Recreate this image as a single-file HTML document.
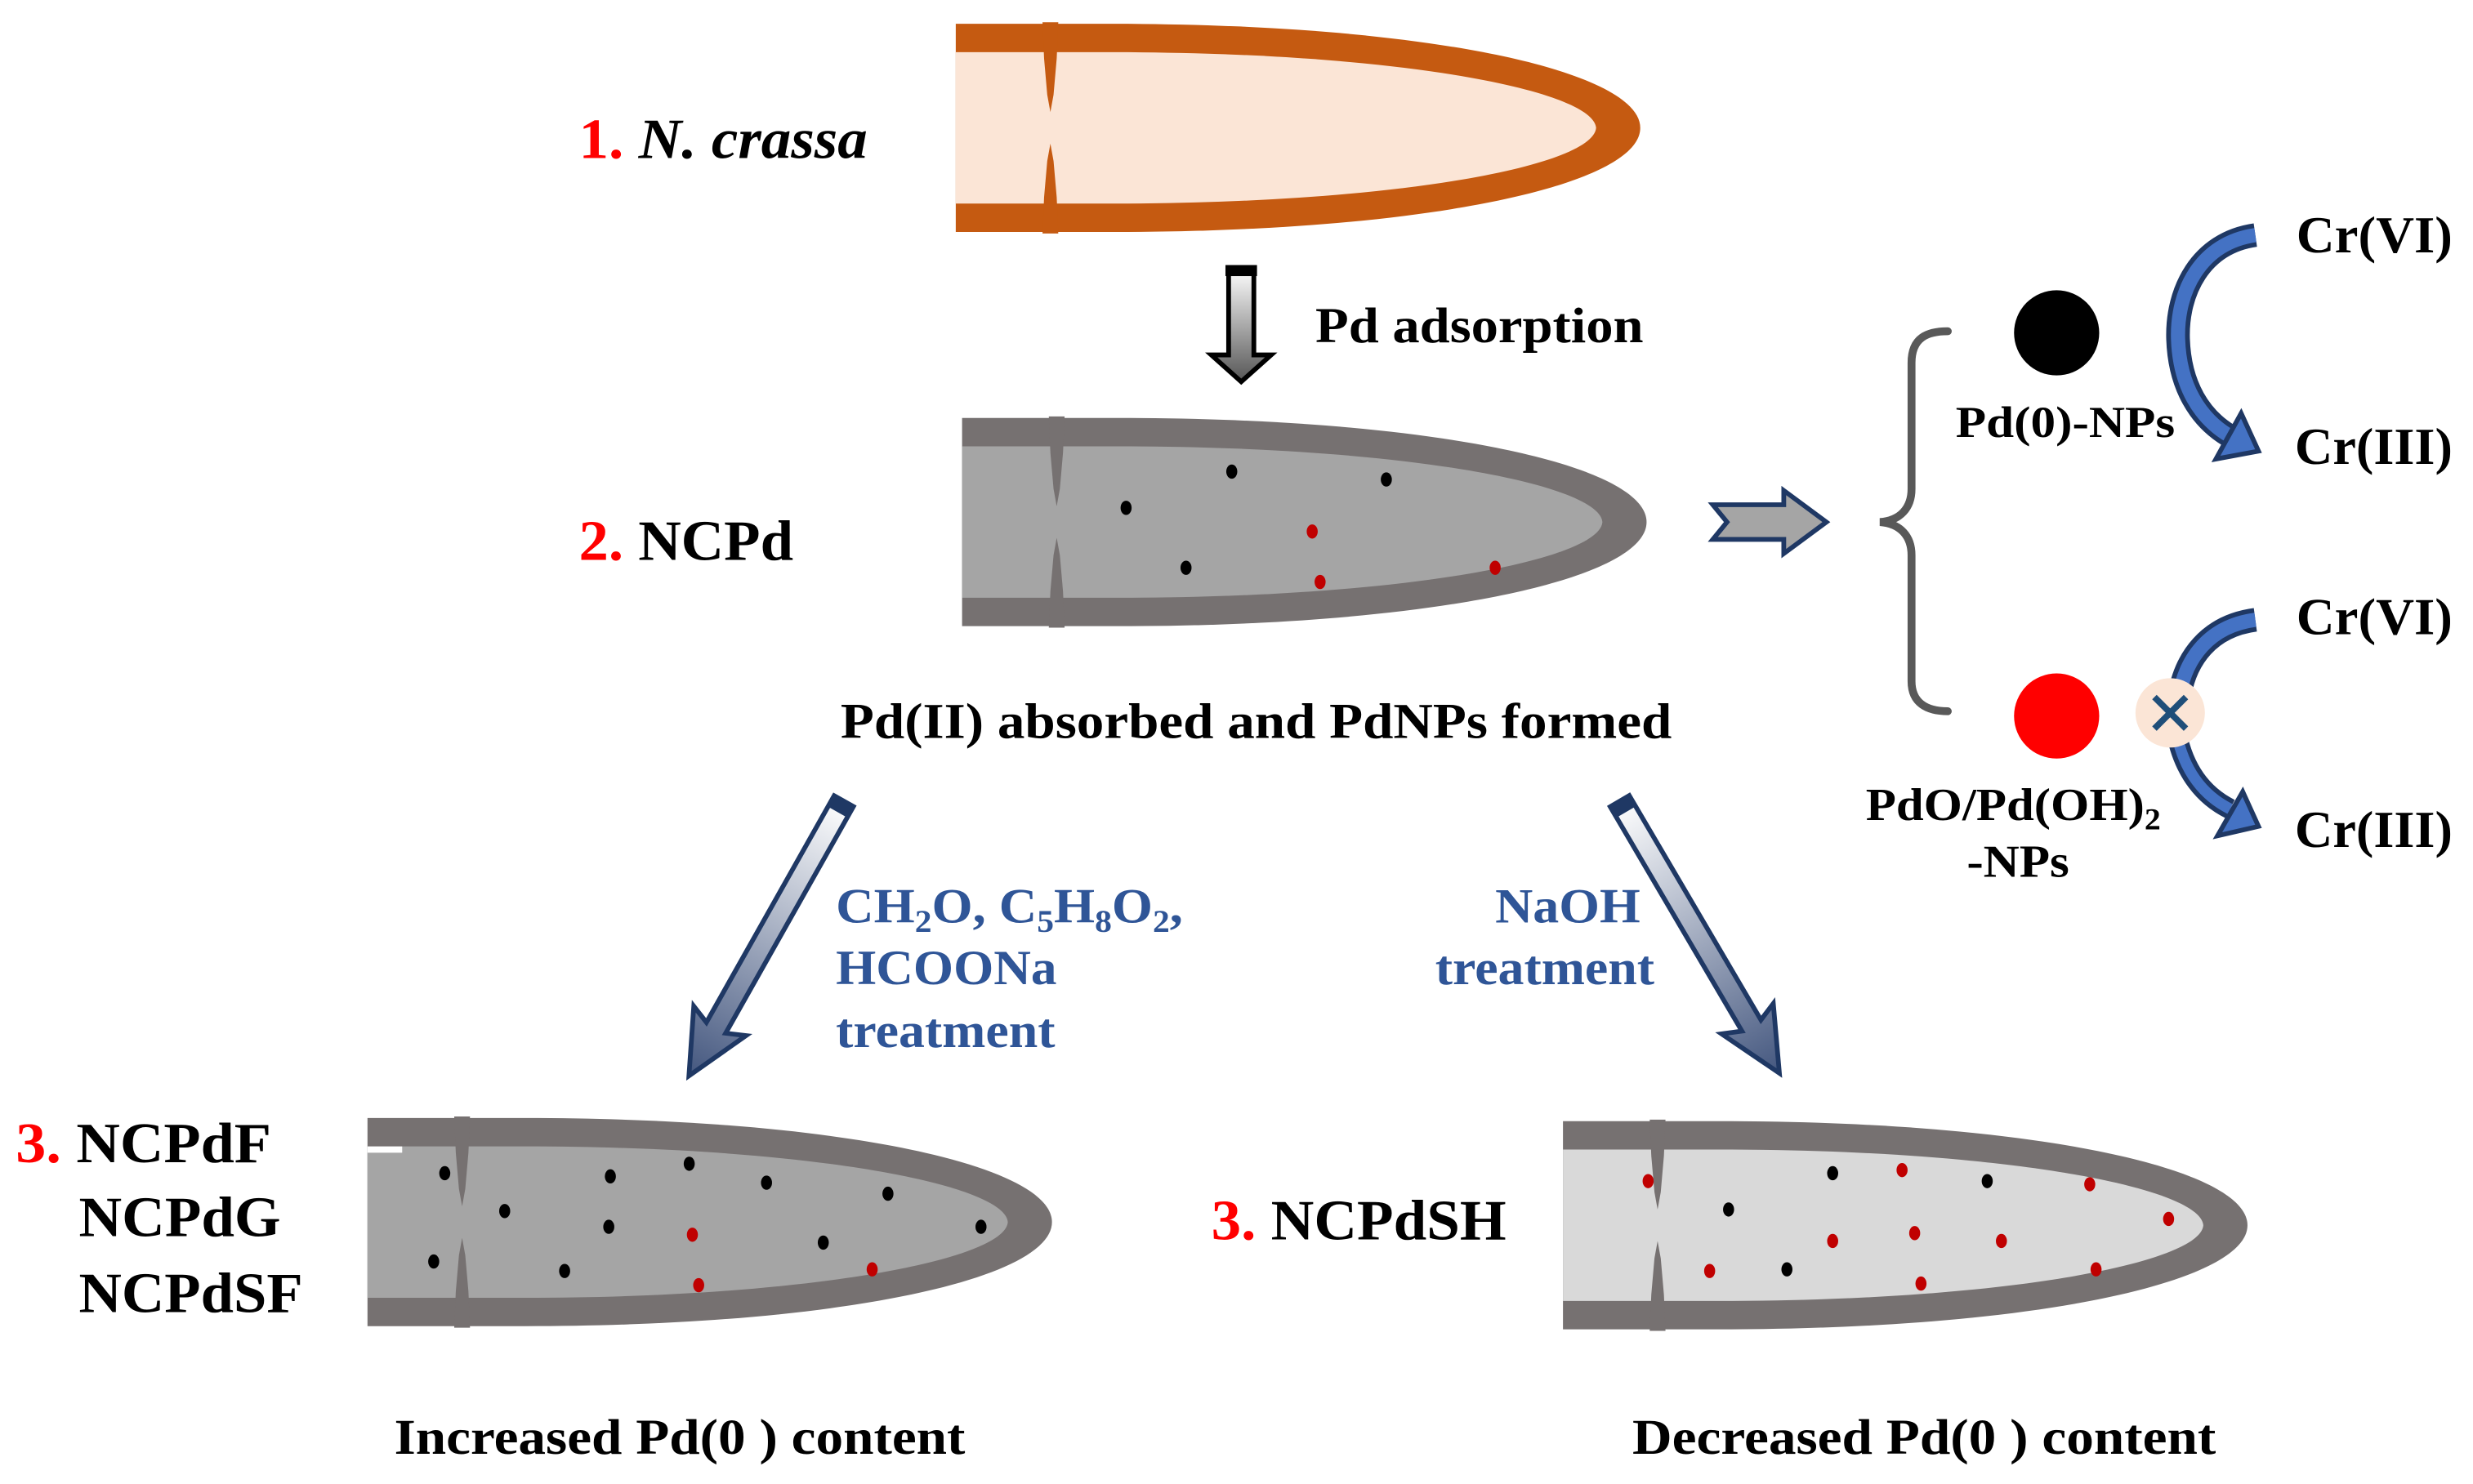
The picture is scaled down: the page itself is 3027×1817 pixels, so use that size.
<!DOCTYPE html>
<html><head><meta charset="utf-8"><style>
html,body{margin:0;padding:0;background:#fff;}
svg{display:block;}
text{font-family:"Liberation Serif",serif;font-weight:bold;}
</style></head><body>
<svg width="3027" height="1817" viewBox="0 0 1568 941" xmlns="http://www.w3.org/2000/svg">
<defs>
<linearGradient id="gv" x1="0" y1="0" x2="0" y2="1"><stop offset="0" stop-color="#fff"/><stop offset="1" stop-color="#555"/></linearGradient>
<linearGradient id="gb" x1="0" y1="0" x2="0" y2="1"><stop offset="0" stop-color="#fff"/><stop offset="1" stop-color="#44577f"/></linearGradient>
<path id="outer" d="M0,0 H100 C300,0 434,30 434,66 C434,102 300,132 100,132 H0 Z"/>
<path id="inner" d="M0,18 H100 C280,18 404,42 406,66 C404,90 280,114 100,114 H0 Z"/>
<path id="sept" d="M55,-1 L65,-1 L64,22 L62,45 L60,56 L58,45 L56,22 Z M55,133 L65,133 L64,110 L62,87 L60,76 L58,87 L56,110 Z"/>
<g id="darr">
<path d="M-7,0 L7,0 L7,165 L19,160 L0,200 L-19,160 L-7,165 Z" fill="url(#gb)" stroke="#1f3864" stroke-width="3" stroke-linejoin="miter"/>
<rect x="-7" y="0" width="14" height="8" fill="#1f3864"/>
</g>
</defs>

<g transform="translate(606,15)">
<use href="#outer" fill="#c55a11"/><use href="#inner" fill="#fbe5d6"/><use href="#sept" fill="#c55a11"/>
</g>
<g transform="translate(610,265)">
<use href="#outer" fill="#767171"/><use href="#inner" fill="#a5a5a5"/><use href="#sept" fill="#767171"/>
</g>
<g fill="#000"><ellipse cx="781" cy="299" rx="3.5" ry="4.5"/><ellipse cx="879" cy="304" rx="3.5" ry="4.5"/><ellipse cx="714" cy="322" rx="3.5" ry="4.5"/><ellipse cx="752" cy="360" rx="3.5" ry="4.5"/></g>
<g fill="#c00000"><ellipse cx="832" cy="337" rx="3.5" ry="4.5"/><ellipse cx="837" cy="369" rx="3.5" ry="4.5"/><ellipse cx="948" cy="360" rx="3.5" ry="4.5"/></g>
<g transform="translate(233,709)">
<use href="#outer" fill="#767171"/><use href="#inner" fill="#a5a5a5"/><use href="#sept" fill="#767171"/>
</g>
<rect x="233" y="727" width="22" height="4" fill="#fff"/>
<g fill="#000"><ellipse cx="282" cy="744" rx="3.5" ry="4.5"/><ellipse cx="387" cy="746" rx="3.5" ry="4.5"/><ellipse cx="437" cy="738" rx="3.5" ry="4.5"/><ellipse cx="486" cy="750" rx="3.5" ry="4.5"/><ellipse cx="563" cy="757" rx="3.5" ry="4.5"/><ellipse cx="320" cy="768" rx="3.5" ry="4.5"/><ellipse cx="386" cy="778" rx="3.5" ry="4.5"/><ellipse cx="522" cy="788" rx="3.5" ry="4.5"/><ellipse cx="622" cy="778" rx="3.5" ry="4.5"/><ellipse cx="275" cy="800" rx="3.5" ry="4.5"/><ellipse cx="358" cy="806" rx="3.5" ry="4.5"/></g>
<g fill="#c00000"><ellipse cx="439" cy="783" rx="3.5" ry="4.5"/><ellipse cx="553" cy="805" rx="3.5" ry="4.5"/><ellipse cx="443" cy="815" rx="3.5" ry="4.5"/></g>
<g transform="translate(991,711)">
<use href="#outer" fill="#767171"/><use href="#inner" fill="#d9d9d9"/><use href="#sept" fill="#767171"/>
</g>
<g fill="#c00000"><ellipse cx="1045" cy="749" rx="3.5" ry="4.5"/><ellipse cx="1206" cy="742" rx="3.5" ry="4.5"/><ellipse cx="1325" cy="751" rx="3.5" ry="4.5"/><ellipse cx="1375" cy="773" rx="3.5" ry="4.5"/><ellipse cx="1162" cy="787" rx="3.5" ry="4.5"/><ellipse cx="1214" cy="782" rx="3.5" ry="4.5"/><ellipse cx="1269" cy="787" rx="3.5" ry="4.5"/><ellipse cx="1084" cy="806" rx="3.5" ry="4.5"/><ellipse cx="1218" cy="814" rx="3.5" ry="4.5"/><ellipse cx="1329" cy="805" rx="3.5" ry="4.5"/></g>
<g fill="#000"><ellipse cx="1162" cy="744" rx="3.5" ry="4.5"/><ellipse cx="1260" cy="749" rx="3.5" ry="4.5"/><ellipse cx="1096" cy="767" rx="3.5" ry="4.5"/><ellipse cx="1133" cy="805" rx="3.5" ry="4.5"/></g>

<path d="M779,170 L795,170 L795,225 L806,225 L787,242 L768,225 L779,225 Z" fill="url(#gv)" stroke="#000" stroke-width="3"/>
<rect x="777" y="168" width="20" height="7" fill="#000"/>
<path d="M1086,320 L1131,320 L1131,311 L1158,331 L1131,351 L1131,342 L1086,342 L1095,331 Z" fill="#a5a5a5" stroke="#1f3864" stroke-width="3"/>
<path d="M1235,210 C1222,210 1212,214 1212,230 L1212,310 C1212,322 1205,330 1192,331 C1205,332 1212,340 1212,352 L1212,432 C1212,446 1222,451 1235,451" fill="none" stroke="#595959" stroke-width="5" stroke-linecap="round"/>
<circle cx="1304" cy="211" r="27" fill="#000"/>
<circle cx="1304" cy="454" r="27" fill="#f00"/>
<g fill="none" stroke-linecap="butt">
<path d="M1430,149 C1395,154 1380,185 1381,215 C1382,245 1395,265 1413,276" stroke="#1f3864" stroke-width="15"/>
<path d="M1430,149 C1395,154 1380,185 1381,215 C1382,245 1395,265 1413,276" stroke="#4472c4" stroke-width="9"/>
<path d="M1430,393 C1400,397 1386,418 1382,440" stroke="#1f3864" stroke-width="15"/>
<path d="M1430,393 C1400,397 1386,418 1382,440" stroke="#4472c4" stroke-width="9"/>
<path d="M1380,465 C1385,490 1398,505 1414,513" stroke="#1f3864" stroke-width="13"/>
<path d="M1380,465 C1385,490 1398,505 1414,513" stroke="#4472c4" stroke-width="7"/>
</g>
<path d="M1432,286 L1421,262 L1405,291 Z" fill="#4472c4" stroke="#1f3864" stroke-width="3"/>
<path d="M1432,524 L1422,502 L1406,530 Z" fill="#4472c4" stroke="#1f3864" stroke-width="3"/>
<circle cx="1376" cy="452" r="22" fill="#fbe5d6"/>
<path d="M1366,442 L1386,462 M1386,442 L1366,462" stroke="#1f4e79" stroke-width="4"/>

<use href="#darr" transform="translate(535,508) rotate(29.4)"/>
<use href="#darr" transform="translate(1027,508) rotate(-30.4)"/>

<g lengthAdjust="spacingAndGlyphs">
<text x="367" y="100" font-size="36" font-style="italic" textLength="183" lengthAdjust="spacingAndGlyphs"><tspan fill="#f00" font-style="normal">1.</tspan> N. crassa</text>
<text x="367" y="355" font-size="36" textLength="136" lengthAdjust="spacingAndGlyphs"><tspan fill="#f00">2.</tspan> NCPd</text>
<text x="834" y="217" font-size="32" textLength="208" lengthAdjust="spacingAndGlyphs">Pd adsorption</text>
<text x="533" y="468" font-size="32" textLength="527" lengthAdjust="spacingAndGlyphs">Pd(II) absorbed and PdNPs formed</text>
<text x="1240" y="277" font-size="28" textLength="139" lengthAdjust="spacingAndGlyphs">Pd(0)-NPs</text>
<text x="1183" y="520" font-size="29" textLength="187" lengthAdjust="spacingAndGlyphs">PdO/Pd(OH)<tspan font-size="19" dy="6">2</tspan></text>
<text x="1247" y="556" font-size="29" textLength="65" lengthAdjust="spacingAndGlyphs">-NPs</text>
<text x="1456" y="160" font-size="33" textLength="99" lengthAdjust="spacingAndGlyphs">Cr(VI)</text>
<text x="1455" y="294" font-size="33" textLength="100" lengthAdjust="spacingAndGlyphs">Cr(III)</text>
<text x="1456" y="402" font-size="33" textLength="99" lengthAdjust="spacingAndGlyphs">Cr(VI)</text>
<text x="1455" y="537" font-size="33" textLength="100" lengthAdjust="spacingAndGlyphs">Cr(III)</text>
<g fill="#2f5597" font-size="31">
<text x="530" y="585" textLength="220" lengthAdjust="spacingAndGlyphs">CH<tspan font-size="20" dy="6">2</tspan><tspan dy="-6">O, C</tspan><tspan font-size="20" dy="6">5</tspan><tspan dy="-6">H</tspan><tspan font-size="20" dy="6">8</tspan><tspan dy="-6">O</tspan><tspan font-size="20" dy="6">2</tspan><tspan dy="-6">,</tspan></text>
<text x="530" y="624" textLength="140" lengthAdjust="spacingAndGlyphs">HCOONa</text>
<text x="530" y="664" textLength="139" lengthAdjust="spacingAndGlyphs">treatment</text>
<text x="948" y="585" textLength="92" lengthAdjust="spacingAndGlyphs">NaOH</text>
<text x="910" y="624" textLength="139" lengthAdjust="spacingAndGlyphs">treatment</text>
</g>
<text x="10" y="737" font-size="36" textLength="162" lengthAdjust="spacingAndGlyphs"><tspan fill="#f00">3.</tspan> NCPdF</text>
<text x="50" y="784" font-size="36" textLength="128" lengthAdjust="spacingAndGlyphs">NCPdG</text>
<text x="50" y="832" font-size="36" textLength="142" lengthAdjust="spacingAndGlyphs">NCPdSF</text>
<text x="768" y="786" font-size="36" textLength="187" lengthAdjust="spacingAndGlyphs"><tspan fill="#f00">3.</tspan> NCPdSH</text>
<text x="250" y="922" font-size="32" textLength="362" lengthAdjust="spacingAndGlyphs">Increased Pd(0 ) content</text>
<text x="1035" y="922" font-size="32" textLength="370" lengthAdjust="spacingAndGlyphs">Decreased Pd(0 ) content</text>
</g>
</svg>
</body></html>
